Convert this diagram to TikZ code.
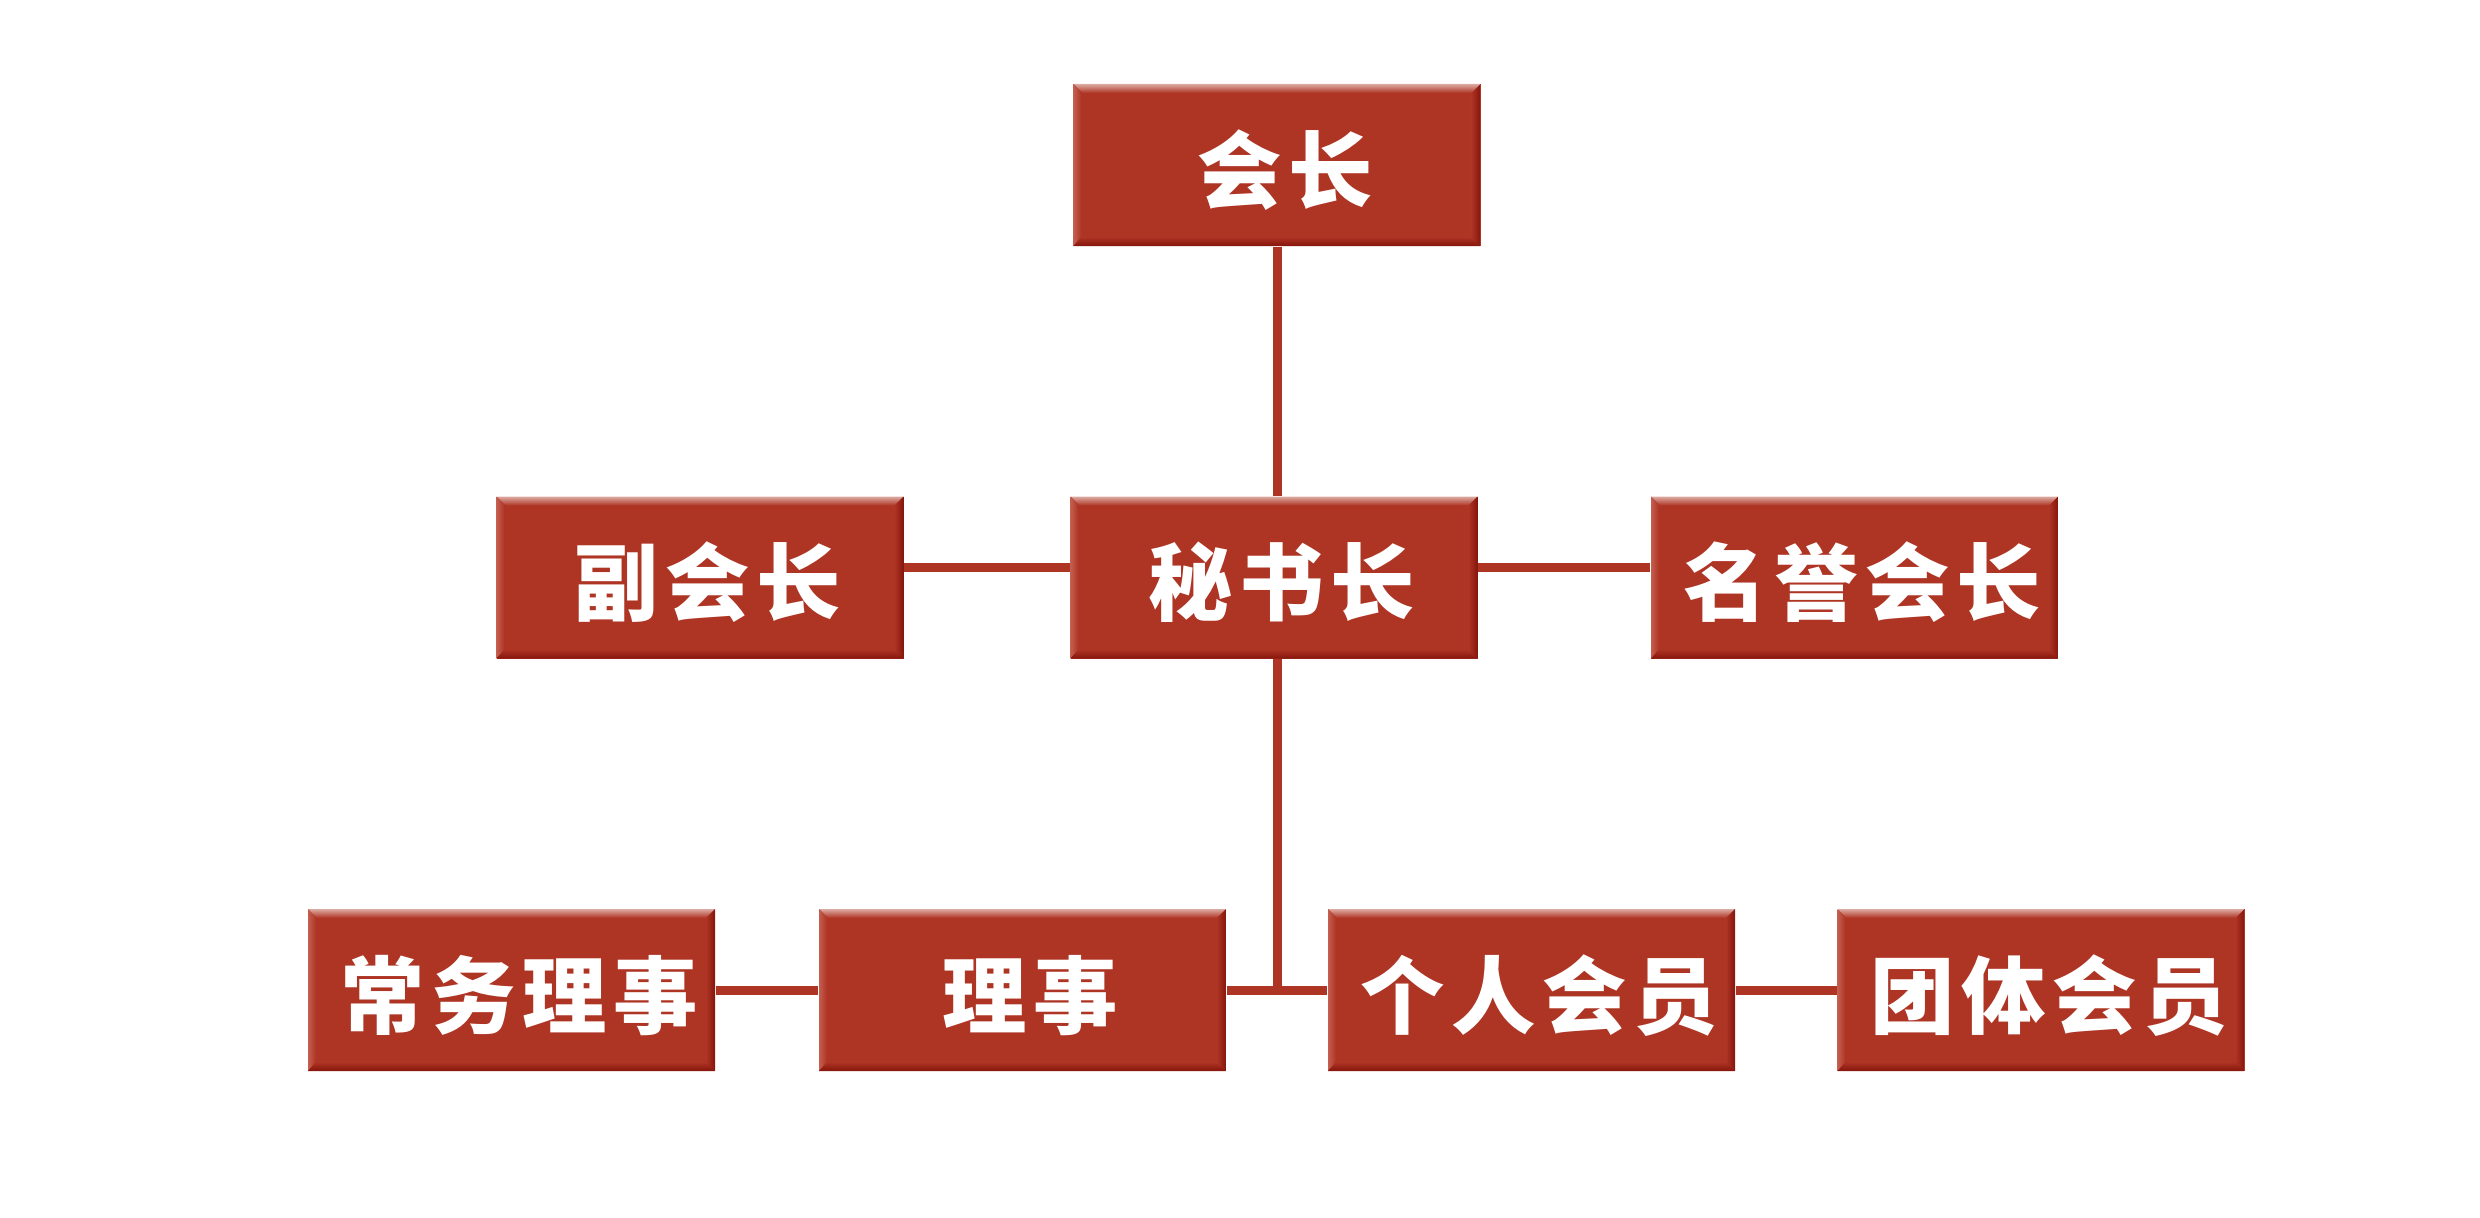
\documentclass[tikz,border=0pt]{standalone}
\usepackage{fontspec}
\usetikzlibrary{calc}
\newfontfamily\cnfont[LetterSpace=8]{Noto Sans CJK SC}
\definecolor{cBox}{HTML}{AE3424}
\definecolor{cBoxTop}{HTML}{DCAAA2}
\definecolor{cBoxLeft}{HTML}{C45E50}
\definecolor{cBoxDark}{HTML}{85150C}

\begin{document}
\begin{tikzpicture}[
    orgbox/.style={fill=cBox,minimum width=4.07cm,minimum height=1.62cm,inner sep=0pt,
      text=white,font=\cnfont\bfseries\fontsize{24}{28}\selectfont,
      text height=0.8cm,text depth=0.06cm,execute at begin node=\hspace*{0.16cm},
      path picture={
        \path (path picture bounding box.north west) coordinate (pNW)
              (path picture bounding box.south east) coordinate (pSE);
        % bevel: light top and left, dark right and bottom
        \shade[top color=cBoxTop,bottom color=cBox]
          (pNW) -- (pNW -| pSE) -- ($(pNW -| pSE)+(-0.09,-0.09)$) -- ($(pNW)+(0.09,-0.09)$) -- cycle;
        \shade[left color=cBoxLeft,right color=cBox]
          (pNW) -- ($(pNW)+(0.08,-0.09)$) -- ($(pNW |- pSE)+(0.08,0.09)$) -- (pNW |- pSE) -- cycle;
        \shade[left color=cBox,right color=cBoxDark]
          (pNW -| pSE) -- (pSE) -- ($(pSE)+(-0.09,0.09)$) -- ($(pNW -| pSE)+(-0.09,-0.09)$) -- cycle;
        \shade[top color=cBox,bottom color=cBoxDark]
          (pNW |- pSE) -- (pSE) -- ($(pSE)+(-0.09,0.09)$) -- ($(pNW |- pSE)+(0.08,0.09)$) -- cycle;
      }},
    link/.style={draw=cBox,line width=0.09cm}]
  \useasboundingbox (0,0) rectangle (24.8,12.17);

  \node[orgbox] (pres) at (12.77,10.52) {会长};

  \node[orgbox] (vice) at (7.00,6.395) {副会长};
  \node[orgbox] (secgen) at (12.74,6.395) {秘书长};
  \node[orgbox] (honor) at (18.545,6.395) {名誉会长};

  \node[orgbox] (standing) at (5.115,2.27) {常务理事};
  \node[orgbox] (council) at (10.225,2.27) {理事};
  \node[orgbox] (indiv) at (15.315,2.27) {个人会员};
  \node[orgbox] (group) at (20.41,2.27) {团体会员};

  \coordinate (jn) at (pres.south |- council.east);

  \draw[link] (pres.south) -- (pres.south |- secgen.north);
  \draw[link] ([yshift=1mm]vice.east) -- ([yshift=1mm]secgen.west);
  \draw[link] ([yshift=1mm]secgen.east) -- ([yshift=1mm]honor.west);
  \draw[link] (pres.south |- secgen.south) -- (jn);
  \draw[link] (standing) -- (council);
  \draw[link] (council) -- (indiv);
  \draw[link] (indiv) -- (group);
\end{tikzpicture}
\end{document}
